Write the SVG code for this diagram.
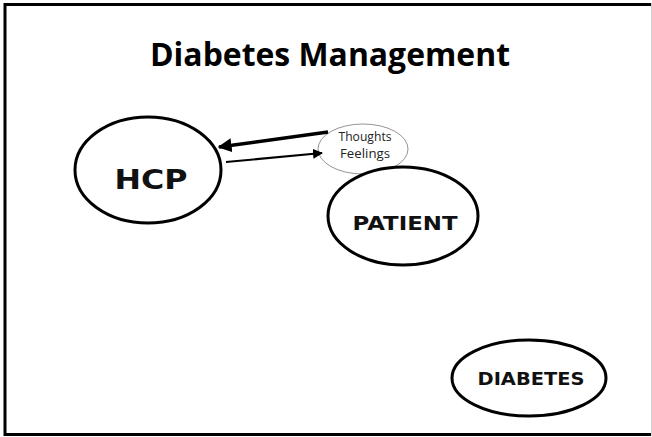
<svg xmlns="http://www.w3.org/2000/svg" width="652" height="437" viewBox="0 0 652 437">
  <defs>
    <marker id="head" viewBox="0 0 10 10" refX="9" refY="5" markerWidth="4" markerHeight="4" orient="auto" markerUnits="strokeWidth">
      <path d="M0,0 L10,5 L0,10 z" fill="#000"/>
    </marker>
    <marker id="head-thin" viewBox="0 0 10 10" refX="9" refY="5" markerWidth="5" markerHeight="5" orient="auto" markerUnits="strokeWidth">
      <path d="M0,0 L10,5 L0,10 z" fill="#000"/>
    </marker>
  </defs>
  <style>
    .frame { fill: none; stroke: #000; stroke-width: 3; }
    .frame-edge { stroke: #d0d0d0; stroke-width: 1; }
    .node { fill: #fff; stroke: #000; stroke-width: 3; }
    .bubble { fill: #fff; stroke: #777; stroke-width: 0.8; }
    .caps { font-family: "DejaVu Sans", "Liberation Sans", sans-serif; font-weight: bold; text-anchor: middle; fill: #111; }
    .small { font-family: "Open Sans", "Liberation Sans", sans-serif; font-size: 12.5px; text-anchor: middle; fill: #222; }
    .title { font-family: "Open Sans", "Liberation Sans", sans-serif; font-weight: bold; font-size: 32px; text-anchor: middle; fill: #000; }
    .link { fill: none; stroke: #000; }
  </style>

  <rect x="0" y="0" width="652" height="437" fill="#fff"/>
  <!-- slide frame: dark on three sides, faint on the right -->
  <path class="frame" d="M651,4.5 H5 V434.5 H651"/>
  <line class="frame-edge" x1="651.5" y1="3" x2="651.5" y2="436"/>

  <text class="title" x="330" y="66" textLength="360" lengthAdjust="spacingAndGlyphs">Diabetes Management</text>

  <g id="hcp">
    <ellipse class="node" cx="148" cy="170" rx="73" ry="53"/>
    <text class="caps" x="151" y="189" font-size="26" textLength="73" lengthAdjust="spacingAndGlyphs">HCP</text>
  </g>

  <g id="thoughts">
    <ellipse class="bubble" cx="363" cy="149" rx="45" ry="25"/>
    <text class="small" x="365" y="141" textLength="53" lengthAdjust="spacingAndGlyphs">Thoughts</text>
    <text class="small" x="365" y="158" textLength="50" lengthAdjust="spacingAndGlyphs">Feelings</text>
  </g>

  <g id="patient">
    <ellipse class="node" cx="403" cy="216" rx="75" ry="49"/>
    <text class="caps" x="405" y="230" font-size="20" textLength="105" lengthAdjust="spacingAndGlyphs">PATIENT</text>
  </g>

  <g id="diabetes">
    <ellipse class="node" cx="529" cy="378" rx="77" ry="38"/>
    <text class="caps" x="531" y="385" font-size="17" textLength="107" lengthAdjust="spacingAndGlyphs">DIABETES</text>
  </g>

  <g id="connectors">
    <line class="link" x1="328" y1="132" x2="219" y2="147" stroke-width="3.5" marker-end="url(#head)"/>
    <line class="link" x1="226" y1="162" x2="322" y2="153" stroke-width="2" marker-end="url(#head-thin)"/>
  </g>
</svg>
